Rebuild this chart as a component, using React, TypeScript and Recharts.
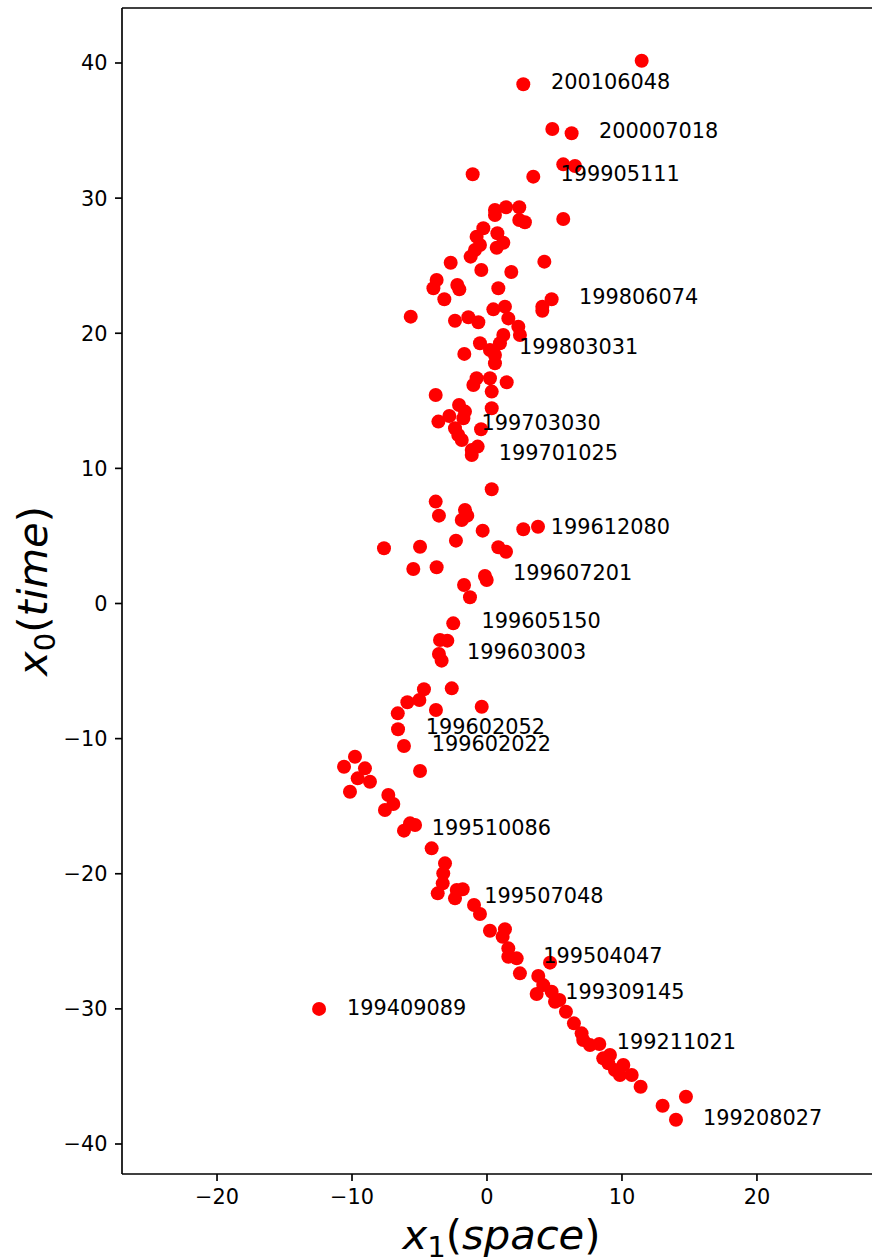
import { ScatterChart, Scatter, XAxis, YAxis, ReferenceLine } from "recharts";

// event positions: x1 (space) and x0 (time)
const spaceX = [
  11.46, 2.69, 4.84, 6.27, 5.65, 6.52, -1.06, 3.43, 5.65,
  0.59, 1.41, 2.39, 2.39, 2.81, 0.59, -0.27, -0.77, 0.77, 1.21,
  0.72, -0.52, -0.89, -1.21, -2.69, 4.25, -0.42, 1.8, -3.73, -3.97,
  -2.2, -2.05, 0.84, -3.16, 4.79, 4.1, 4.1, -5.65, 0.47, 1.33,
  1.58, -2.37, -1.38, -0.64, 2.32, 2.44, 1.21, 0.96, -0.52, 0.22,
  -1.68, 0.59, 0.59,
  -0.77, -1.01, 0.22, 1.46, 0.35, -3.8, 0.35, -2.07, -1.63, -1.75,
  -2.79, -3.6, -2.37, -0.44, -2.13, -1.87, -0.69, -1.13, -1.13,
  0.35, -3.8, -3.56, -1.63, -1.46, -1.87, -0.32, 2.69, 3.78, -2.3,
  0.84, 1.41, -7.63, -4.96, -5.46, -3.73, -1.7, -1.26, -0.15, -0.02,
  -2.5, -3.48, -2.94, -3.56, -3.36, -4.67, -2.61, -5.01, -5.9,
  -3.78, -0.39, -6.61, -6.59, -6.15, -9.78, -10.59, -9.04, -9.58,
  -8.67, -10.15, -4.96, -7.31, -6.94, -7.56, -5.7, -5.33, -6.15,
  -4.1, -3.11, -3.24, -3.28, -3.65, -2.24, -1.8, -2.37, -0.96, -0.52,
  0.22, 1.33, 1.16, 1.58, 1.58, 2.2, 4.67, 2.44, 3.8, 4.17, 3.68,
  4.79, 5.36, 5.04, 5.85, 6.44, 7.01, 7.13, 7.63, 8.32, 8.61, 9.11,
  8.99, 9.48, 9.85, 10.1, 10.72, 11.38, 13.01, 14.74, 14.0, -12.44,
];
const timeY = [
  40.17, 38.43, 35.12, 34.8, 32.5, 32.38, 31.77, 31.59, 28.45,
  29.12, 29.32, 29.32, 28.38, 28.21, 28.75, 27.77, 27.15, 27.4, 26.7,
  26.33, 26.53, 26.16, 25.67, 25.22, 25.3, 24.68, 24.53, 23.94, 23.33,
  23.57, 23.25, 23.33, 22.52, 22.52, 21.97, 21.67, 21.23, 21.77, 21.97,
  21.1, 20.93, 21.18, 20.81, 20.49, 19.87, 19.87, 19.26, 19.26, 18.76,
  18.47, 18.39, 17.78,
  16.67, 16.17, 16.67, 16.37, 15.68, 15.43, 14.45, 14.69, 14.2, 13.71,
  13.88, 13.46, 12.97, 12.89, 12.47, 12.1, 11.61, 11.36, 10.99,
  8.45, 7.54, 6.5, 6.92, 6.5, 6.18, 5.39, 5.49, 5.68, 4.65,
  4.16, 3.83, 4.09, 4.2, 2.55, 2.68, 1.37, 0.46, 2.04, 1.74,
  -1.47, -2.7, -2.75, -3.74, -4.23, -6.35, -6.28, -7.14, -7.31,
  -7.88, -7.64, -8.13, -9.31, -10.55, -11.34, -12.08, -12.2, -12.94,
  -13.19, -13.93, -12.4, -14.17, -14.84, -15.28, -16.27, -16.39, -16.81,
  -18.12, -19.23, -19.97, -20.71, -21.45, -21.2, -21.15, -21.82, -22.31, -22.98,
  -24.22, -24.11, -24.66, -25.52, -26.14, -26.26, -26.58, -27.37, -27.57, -28.24, -28.9,
  -28.73, -29.34, -29.47, -30.21, -31.07, -31.81, -32.31, -32.68, -32.6, -33.66, -33.41,
  -34.03, -34.52, -34.89, -34.15, -34.89, -35.76, -37.17, -36.5, -38.2, -30.0,
];

// annotated event ids and where their text starts
const eventIds = [
  "200106048", "200007018", "199905111", "199806074", "199803031",
  "199703030", "199701025", "199612080", "199607201", "199605150",
  "199603003", "199602052", "199602022", "199510086", "199507048",
  "199504047", "199309145", "199211021", "199208027", "199409089",
];
const eventX = [
  4.74, 8.3, 5.45, 6.82, 2.38, -0.4, 0.88, 4.72, 1.93, -0.4,
  -1.48, -4.53, -4.1, -4.1, -0.2, 4.17, 5.8, 9.62, 16.0, -10.37,
];
const eventY = [
  38.65, 35.0, 31.83, 22.72, 19.06, 13.4, 11.18, 5.74, 2.28, -1.22,
  -3.57, -9.07, -10.34, -16.54, -21.61, -26.02, -28.72, -32.44, -38.0, -29.87,
];

const xTicks = [-20, -10, 0, 10, 20];
const yTicks = [-40, -30, -20, -10, 0, 10, 20, 30, 40];
const yTop = 44.07;

const points = spaceX.map((x, i) => ({ x, y: timeY[i] }));
const labels = eventIds.map((name, i) => ({ x: eventX[i], y: eventY[i], name }));

const FONT = "DejaVu Sans";
const minus = (v: number) => String(v).replace("-", "\u2212");

const Dot = (p: any) => <circle cx={p.cx} cy={p.cy} r={7} fill="#ff0000" />;
const Tag = (p: any) => (
  <text x={p.cx} y={p.cy} dy="0.3645em" fontFamily={FONT} fontSize={20.83} fill="#000">
    {p.payload.name}
  </text>
);

const XTitle = (props: any) => {
  const vb = props.viewBox;
  return (
    <text x={vb.x + vb.width / 2} y={vb.y + 75} textAnchor="middle" fontFamily={FONT} fontSize={41.7} fill="#000">
      <tspan fontStyle="italic">x</tspan>
      <tspan fontSize={29.2} dy={8}>1</tspan>
      <tspan dy={-8}>(</tspan>
      <tspan fontStyle="italic">space</tspan>
      <tspan>)</tspan>
    </text>
  );
};

const YTitle = (props: any) => {
  const vb = props.viewBox;
  const cy = vb.y + vb.height / 2;
  return (
    <text transform={`translate(47, ${cy}) rotate(-90)`} textAnchor="middle" fontFamily={FONT} fontSize={41.7} fill="#000">
      <tspan fontStyle="italic">x</tspan>
      <tspan fontSize={29.2} dy={8}>0</tspan>
      <tspan dy={-8}>(</tspan>
      <tspan fontStyle="italic">time</tspan>
      <tspan>)</tspan>
    </text>
  );
};

const line = { stroke: "#000", strokeWidth: 1.67 };
const tickStyle = { fill: "#000", fontSize: 20.83, fontFamily: FONT };

export default function App() {
  return (
    <div style={{ position: "fixed", left: 0, top: 0, width: 872, height: 1258, overflow: "hidden", background: "#fff" }}>
      <ScatterChart width={882} height={1258} margin={{ top: 8, right: 1, bottom: 0, left: 0 }}>
        <XAxis
          type="number"
          dataKey="x"
          domain={[-27.04, 29.19]}
          ticks={xTicks}
          allowDataOverflow
          height={84}
          tickSize={7}
          tickMargin={8}
          axisLine={line}
          tickLine={line}
          tick={tickStyle}
          tickFormatter={minus}
          label={XTitle}
        />
        <YAxis
          type="number"
          dataKey="y"
          domain={[-42.22, yTop]}
          ticks={yTicks}
          allowDataOverflow
          width={122}
          tickSize={7}
          tickMargin={7.5}
          axisLine={line}
          tickLine={line}
          tick={tickStyle}
          tickFormatter={minus}
          label={YTitle}
        />
        <ReferenceLine y={yTop} stroke="#000" strokeWidth={1.67} ifOverflow="visible" />
        <Scatter data={points} shape={Dot} isAnimationActive={false} />
        <Scatter data={labels} shape={Tag} isAnimationActive={false} />
      </ScatterChart>
    </div>
  );
}
